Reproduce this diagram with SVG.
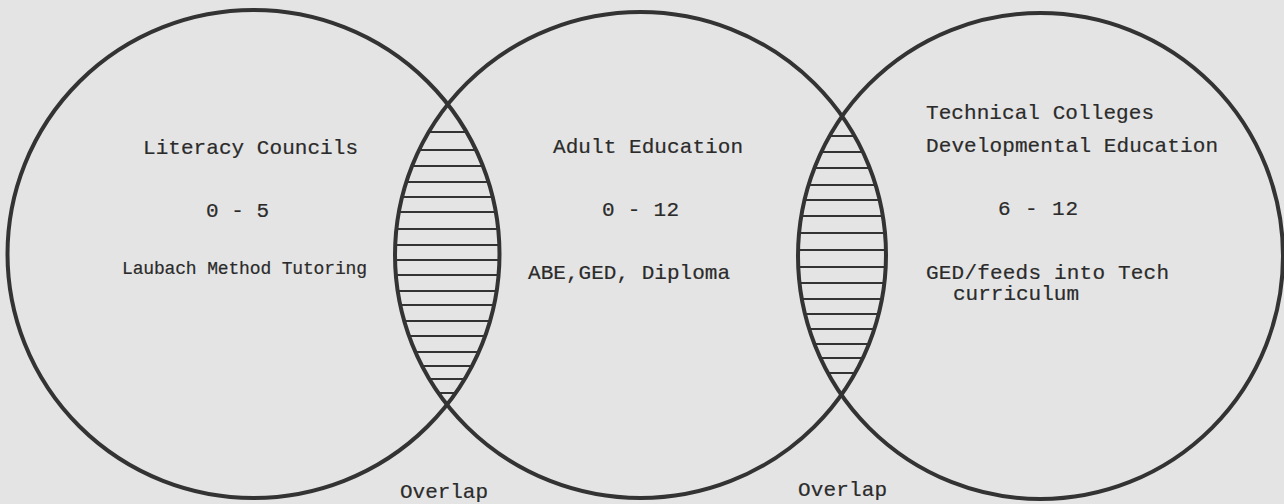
<svg xmlns="http://www.w3.org/2000/svg" width="1284" height="504" viewBox="0 0 1284 504">
<style>
.ring{fill:none;stroke:#333;stroke-width:4}
.hatch line{stroke:#333;stroke-width:2}
.t{font-family:"Liberation Mono","Courier New",monospace;font-size:21px;fill:#2b2b2b;stroke:#2b2b2b;stroke-width:0.2}
.s{font-family:"Liberation Mono","Courier New",monospace;font-size:18px;fill:#2b2b2b;stroke:#2b2b2b;stroke-width:0.2}
</style>
<defs>
<clipPath id="cL"><ellipse cx="253.5" cy="254" rx="246" ry="244"/></clipPath>
<clipPath id="cM"><ellipse cx="640.5" cy="255" rx="245.5" ry="243"/></clipPath>
<clipPath id="cR"><ellipse cx="1040.5" cy="256" rx="242.5" ry="243"/></clipPath>
</defs>
<rect width="1284" height="504" fill="#e4e4e4"/>
<g id="overlap-left-hatch" class="hatch" clip-path="url(#cL)"><g clip-path="url(#cM)">
<line x1="370" x2="520" y1="132" y2="132"/><line x1="370" x2="520" y1="150" y2="150"/><line x1="370" x2="520" y1="166" y2="166"/><line x1="370" x2="520" y1="182" y2="182"/><line x1="370" x2="520" y1="197" y2="197"/><line x1="370" x2="520" y1="212" y2="212"/><line x1="370" x2="520" y1="229" y2="229"/><line x1="370" x2="520" y1="245" y2="245"/><line x1="370" x2="520" y1="260" y2="260"/><line x1="370" x2="520" y1="275" y2="275"/><line x1="370" x2="520" y1="291" y2="291"/><line x1="370" x2="520" y1="305" y2="305"/><line x1="370" x2="520" y1="321" y2="321"/><line x1="370" x2="520" y1="336" y2="336"/><line x1="370" x2="520" y1="352" y2="352"/><line x1="370" x2="520" y1="366" y2="366"/><line x1="370" x2="520" y1="379" y2="379"/><line x1="370" x2="520" y1="393" y2="393"/>
</g></g>
<g id="overlap-right-hatch" class="hatch" clip-path="url(#cM)"><g clip-path="url(#cR)">
<line x1="780" x2="900" y1="136" y2="136"/><line x1="780" x2="900" y1="152" y2="152"/><line x1="780" x2="900" y1="168" y2="168"/><line x1="780" x2="900" y1="185" y2="185"/><line x1="780" x2="900" y1="200" y2="200"/><line x1="780" x2="900" y1="216" y2="216"/><line x1="780" x2="900" y1="233" y2="233"/><line x1="780" x2="900" y1="250" y2="250"/><line x1="780" x2="900" y1="267" y2="267"/><line x1="780" x2="900" y1="283" y2="283"/><line x1="780" x2="900" y1="299" y2="299"/><line x1="780" x2="900" y1="314" y2="314"/><line x1="780" x2="900" y1="329" y2="329"/><line x1="780" x2="900" y1="344" y2="344"/><line x1="780" x2="900" y1="358" y2="358"/><line x1="780" x2="900" y1="373" y2="373"/>
</g></g>
<g id="literacy-councils">
<ellipse class="ring" cx="253.5" cy="254" rx="246" ry="244"/>
<text class="t" x="143" y="154" textLength="215">Literacy Councils</text>
<text class="t" x="206" y="217" textLength="63" xml:space="preserve">0 - 5</text>
<text class="s" x="122" y="274" textLength="245">Laubach Method Tutoring</text>
</g>
<g id="adult-education">
<ellipse class="ring" cx="640.5" cy="255" rx="245.5" ry="243"/>
<text class="t" x="553" y="153" textLength="190">Adult Education</text>
<text class="t" x="602" y="216" textLength="77" xml:space="preserve">0 - 12</text>
<text class="t" x="528" y="279" textLength="202">ABE,GED, Diploma</text>
</g>
<g id="technical-colleges">
<ellipse class="ring" cx="1040.5" cy="256" rx="242.5" ry="243"/>
<text class="t" x="926" y="119" textLength="228">Technical Colleges</text>
<text class="t" x="926" y="152" textLength="292">Developmental Education</text>
<text class="t" x="998" y="215" textLength="80" xml:space="preserve">6 - 12</text>
<text class="t" x="926" y="279" textLength="243">GED/feeds into Tech</text>
<text class="t" x="953" y="300" textLength="126">curriculum</text>
</g>
<g id="overlap-labels">
<text class="t" x="400" y="498" textLength="88">Overlap</text>
<text class="t" x="798" y="496" textLength="89">Overlap</text>
</g>
</svg>
